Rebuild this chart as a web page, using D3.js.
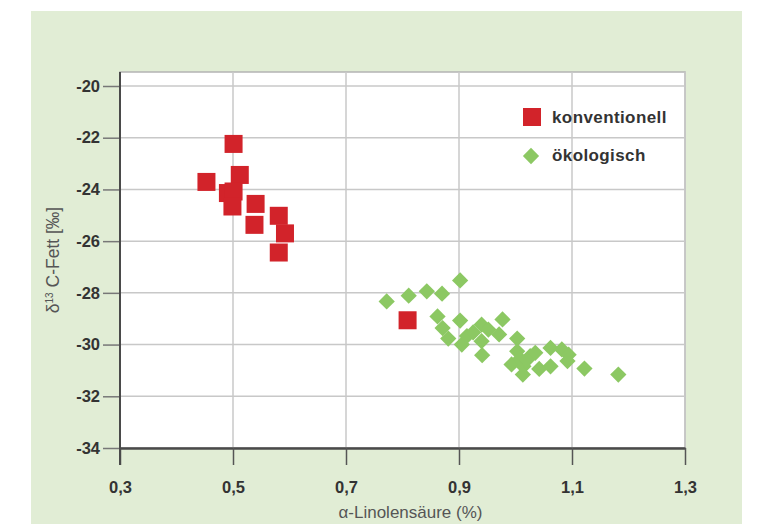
<!DOCTYPE html>
<html>
<head>
<meta charset="utf-8">
<script src="https://cdn.jsdelivr.net/npm/d3@7"></script>
<style>
  body { margin: 0; background: #fff; }
  svg text { font-family: "Liberation Sans", Arial, sans-serif; }
</style>
</head>
<body>
<div id="chart"></div>
<script>
// konventionell (red squares)
const konvX = [0.501, 0.512, 0.453, 0.491, 0.501, 0.499, 0.540, 0.538, 0.581, 0.592, 0.581, 0.809];
const konvY = [-22.24, -23.44, -23.71, -24.14, -24.08, -24.66, -24.56, -25.37, -25.02, -25.70, -26.44, -29.06];

// ökologisch (green diamonds)
const oekoX = [0.772, 0.811, 0.843, 0.870, 0.902, 0.862, 0.902, 0.871, 0.881, 0.905,
               0.914, 0.925, 0.940, 0.952, 0.940, 0.941, 0.971, 0.977, 1.003, 1.003,
               1.026, 1.035, 0.993, 1.014, 1.013, 1.042, 1.062, 1.062, 1.082, 1.094,
               1.092, 1.122, 1.182, 1.008, 1.020];
const oekoY = [-28.33, -28.11, -27.94, -28.03, -27.52, -28.91, -29.07, -29.36, -29.77, -30.00,
               -29.67, -29.53, -29.23, -29.42, -29.87, -30.41, -29.61, -29.03, -29.77, -30.26,
               -30.45, -30.32, -30.77, -30.84, -31.16, -30.94, -30.84, -30.13, -30.19, -30.39,
               -30.64, -30.93, -31.16, -30.55, -30.60];

const xTicks = [0.3, 0.5, 0.7, 0.9, 1.1, 1.3];
const yTicks = [-20, -22, -24, -26, -28, -30, -32, -34];

const width = 758, height = 524;
const plot = { left: 120, right: 685, top: 72, bottom: 448 };

const svg = d3.select("#chart").append("svg")
    .attr("width", width)
    .attr("height", height);

// green panel
svg.append("rect")
    .attr("x", 31).attr("y", 11)
    .attr("width", 711).attr("height", height - 11)
    .attr("fill", "#e1edd5");

const xScale = d3.scaleLinear().domain([0.3, 1.3]).range([plot.left, plot.right]);
const yScale = d3.scaleLinear().domain([-34, -20]).range([plot.bottom, 86]);

// white plot area
svg.append("rect")
    .attr("x", plot.left).attr("y", plot.top)
    .attr("width", plot.right - plot.left).attr("height", plot.bottom - plot.top)
    .attr("fill", "#fff")
    .attr("stroke", "#b4b4b4")
    .attr("stroke-width", 1.5);

// grid
svg.append("g").selectAll("line")
    .data(xTicks.slice(1))
    .enter().append("line")
    .attr("x1", d => xScale(d)).attr("x2", d => xScale(d))
    .attr("y1", plot.top).attr("y2", plot.bottom)
    .attr("stroke", "#c8c8c8").attr("stroke-width", 1.5);

svg.append("g").selectAll("line")
    .data(yTicks.slice(0, -1))
    .enter().append("line")
    .attr("x1", plot.left).attr("x2", plot.right)
    .attr("y1", d => yScale(d)).attr("y2", d => yScale(d))
    .attr("stroke", "#c8c8c8").attr("stroke-width", 1.5);

const fmt = d => d3.format(".1f")(d).replace(".", ",");

// x axis
const xAxis = d3.axisBottom(xScale).tickValues(xTicks).tickFormat(fmt)
    .tickSize(17).tickSizeOuter(0).tickPadding(16);
const xg = svg.append("g")
    .attr("transform", "translate(0," + plot.bottom + ")")
    .call(xAxis);
xg.select(".domain").attr("stroke", "#4a4a4a").attr("stroke-width", 2.5);
xg.selectAll(".tick line").attr("stroke", "#555").attr("stroke-width", 1.5);
xg.selectAll(".tick text")
    .attr("font-size", 16.5).attr("font-weight", "bold").attr("fill", "#333");

// y axis
const yAxis = d3.axisLeft(yScale).tickValues(yTicks).tickFormat(d => d)
    .tickSize(17).tickSizeOuter(0).tickPadding(3);
const yg = svg.append("g")
    .attr("transform", "translate(" + plot.left + ",0)")
    .call(yAxis);
yg.select(".domain").remove();
yg.selectAll(".tick line").attr("stroke", "#777").attr("stroke-width", 1.5);
yg.selectAll(".tick text")
    .attr("font-size", 16.5).attr("font-weight", "bold").attr("fill", "#333");
yg.append("line")
    .attr("x1", 0).attr("x2", 0)
    .attr("y1", plot.top).attr("y2", 465)
    .attr("stroke", "#4a4a4a").attr("stroke-width", 2);

// axis titles
svg.append("text")
    .attr("x", (plot.left + plot.right) / 2 + 8)
    .attr("y", 518)
    .attr("text-anchor", "middle")
    .attr("font-size", 17)
    .attr("fill", "#555")
    .text("α-Linolensäure (%)");

const yl = svg.append("text")
    .attr("transform", "translate(59,260) rotate(-90)")
    .attr("text-anchor", "middle")
    .attr("font-size", 17.5)
    .attr("fill", "#555");
yl.append("tspan").text("δ");
yl.append("tspan").attr("font-size", 10).attr("dy", -6).text("13");
yl.append("tspan").attr("dy", 6).text(" C-Fett [‰]");

// points
const red = "#d2232a", green = "#8cc863";
const sq = 18, dia = 11.5;

svg.append("g").selectAll("rect")
    .data(oekoX.map((x, i) => ({ x: x, y: oekoY[i] })))
    .enter().append("rect")
    .attr("x", -dia / 2).attr("y", -dia / 2)
    .attr("width", dia).attr("height", dia)
    .attr("transform", d => "translate(" + xScale(d.x) + "," + yScale(d.y) + ") rotate(45)")
    .attr("fill", green);

svg.append("g").selectAll("rect")
    .data(konvX.map((x, i) => ({ x: x, y: konvY[i] })))
    .enter().append("rect")
    .attr("x", d => xScale(d.x) - sq / 2)
    .attr("y", d => yScale(d.y) - sq / 2)
    .attr("width", sq).attr("height", sq)
    .attr("fill", red);

// legend
const legend = svg.append("g");
legend.append("rect")
    .attr("x", 523).attr("y", 108).attr("width", sq).attr("height", sq)
    .attr("fill", red);
legend.append("text")
    .attr("x", 552).attr("y", 123)
    .attr("font-size", 17).attr("font-weight", "bold").attr("fill", "#333")
    .attr("letter-spacing", 0.4)
    .text("konventionell");
legend.append("rect")
    .attr("x", -dia / 2).attr("y", -dia / 2).attr("width", dia).attr("height", dia)
    .attr("transform", "translate(531,156) rotate(45)")
    .attr("fill", green);
legend.append("text")
    .attr("x", 552).attr("y", 161)
    .attr("font-size", 17).attr("font-weight", "bold").attr("fill", "#333")
    .attr("letter-spacing", 0.4)
    .text("ökologisch");
</script>
</body>
</html>
